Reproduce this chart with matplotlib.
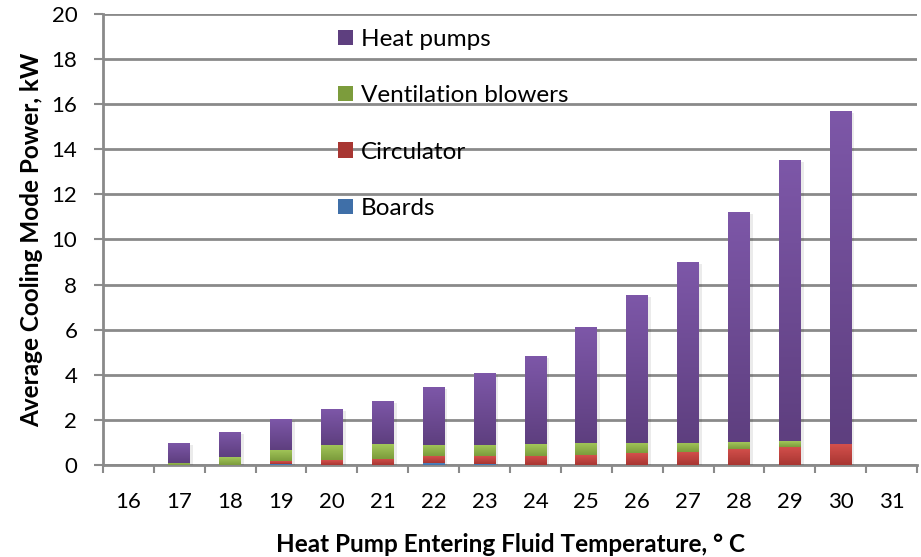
import numpy as np
import matplotlib
matplotlib.use('Agg')
import matplotlib.pyplot as plt
import matplotlib.patheffects as pe
from matplotlib.colors import LinearSegmentedColormap

plt.rcParams['font.family'] = ['Lato', 'DejaVu Sans']

temps = ['16', '17', '18', '19', '20', '21', '22', '23', '24', '25',
         '26', '27', '28', '29', '30', '31']
boards = [0, 0, 0, 0.06, 0, 0, 0.09, 0.06, 0, 0, 0, 0, 0, 0, 0, 0]
circulator = [0, 0, 0, 0.12, 0.22, 0.27, 0.31, 0.34, 0.40, 0.44,
              0.53, 0.58, 0.71, 0.80, 0.93, 0]
ventilation = [0, 0.09, 0.35, 0.49, 0.67, 0.66, 0.49, 0.49, 0.53, 0.54,
               0.45, 0.40, 0.31, 0.26, 0, 0]
heat_pumps = [0, 0.89, 1.11, 1.37, 1.59, 1.91, 2.57, 3.19, 3.90, 5.14,
              6.56, 8.02, 10.20, 12.47, 14.77, 0]

# (label, values, top colour, bottom colour)
series = [
    ('Boards', boards, '#5a8fcf', '#3f6fa8'),
    ('Circulator', circulator, '#d4504c', '#a83632'),
    ('Ventilation blowers', ventilation, '#a3c75a', '#7c9c3c'),
    ('Heat pumps', heat_pumps, '#7d57a8', '#5e3f7f'),
]

grey = '#8a8a8a'

fig = plt.figure(figsize=(9.21, 5.57), dpi=100)
ax = fig.add_axes([0.1118, 0.1652, 0.8839, 0.8097])

x = np.arange(len(temps))
bottom = np.zeros(len(temps))
handles = []
for label, vals, c_top, c_bot in series:
    vals = np.array(vals, dtype=float)
    bars = ax.bar(x, vals, width=0.43, bottom=bottom, color=c_bot,
                  label=label, zorder=3, linewidth=0)
    cmap = LinearSegmentedColormap.from_list(label, [c_bot, c_top])
    grad = np.linspace(0, 1, 64).reshape(-1, 1)
    for b in bars:
        if b.get_height() <= 0:
            continue
        b.set_path_effects([pe.SimplePatchShadow(offset=(2, -1.5), shadow_rgbFace='#000000', alpha=0.08),
                            pe.Normal()])
        x0, y0 = b.get_x(), b.get_y()
        im = ax.imshow(grad, cmap=cmap, origin='lower', aspect='auto',
                       extent=[x0, x0 + b.get_width(), y0, y0 + b.get_height()],
                       zorder=3.5, interpolation='bilinear')
        im.set_clip_path(b)
    handles.append(bars)
    bottom += vals

ax.set_xlim(-0.5, len(temps) - 0.5)
ax.set_ylim(0, 20)
ax.set_yticks(np.arange(0, 21, 2))
ax.set_xticks(x)
ax.set_xticklabels(temps)
ax.set_xticks(np.arange(-0.5, len(temps)), minor=True)
ax.tick_params(axis='x', which='major', length=0, pad=19.5, labelsize=16)
ax.tick_params(axis='x', which='minor', length=6, width=1.5, color=grey)
ax.tick_params(axis='y', length=6.5, width=1.5, color=grey, labelsize=16, pad=12)

ax.grid(axis='y', color=grey, linewidth=2, zorder=0)
ax.set_axisbelow(True)
for side in ['top', 'right']:
    ax.spines[side].set_visible(False)
for side in ['left', 'bottom']:
    ax.spines[side].set_color(grey)
    ax.spines[side].set_linewidth(2)

ax.set_xlabel('Heat Pump Entering Fluid Temperature, ° C', fontsize=17.5,
              fontweight='bold', labelpad=15)
ax.set_ylabel('Average Cooling Mode Power, kW', fontsize=17.5,
              fontweight='bold', labelpad=6)

leg = ax.legend(handles[::-1], [s[0] for s in series][::-1], frameon=False,
                loc='upper left', bbox_to_anchor=(0.262, 1.015), fontsize=17.5,
                handlelength=0.6, handleheight=0.6, handletextpad=0.35,
                labelspacing=1.45)
leg.set_zorder(5)

fig.savefig('out.png', dpi=100)
